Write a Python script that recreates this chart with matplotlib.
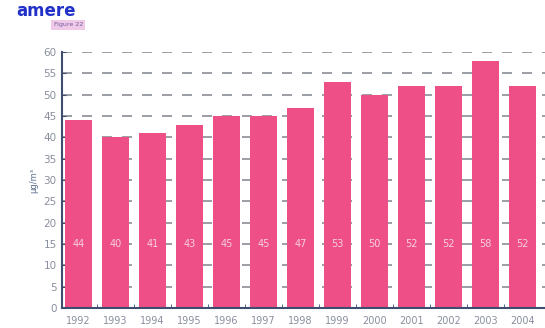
import matplotlib.pyplot as plt
import numpy as np

years = ['1992', '1993', '1994', '1995', '1996', '1997', '1998',
         '1999', '2000', '2001', '2002', '2003', '2004']
values = [44, 40, 41, 43, 45, 45, 47, 53, 50, 52, 52, 58, 52]
yticks = list(range(0, 61, 5))

bar_col = '#ee4f87'
axis_col = '#3f4d70'
txt_col = '#8a8f9e'

fig = plt.figure(figsize=(5.45, 3.28), dpi=100)
ax = fig.add_axes([0.114, 0.061, 0.886, 0.78])

x = np.arange(len(years))
ax.bar(x, values, width=0.73, color=bar_col, zorder=2)
for xi, v in zip(x, values):
    ax.text(xi, 15, str(v), ha='center', va='center', color='#f8d0e0',
            fontsize=7, zorder=3)

ax.set_xlim(-0.45, 12.62)
ax.set_ylim(0, 60)
ax.set_xticks(x)
ax.set_xticklabels(years, fontsize=7, color=txt_col)
ax.set_yticks(yticks)
ax.set_yticklabels([str(t) for t in yticks], fontsize=7.5, color=txt_col)
ax.tick_params(axis='x', length=0, pad=6)
ax.tick_params(axis='y', direction='in', length=3, color=axis_col, pad=4)
ax.set_xticks(x[:-1] + 0.5, minor=True)
ax.tick_params(axis='x', which='minor', direction='in', length=3, color=axis_col)

ax.yaxis.grid(True, linestyle=(0, (6, 6)), color='#8a8d96', linewidth=1.2, zorder=0)
ax.set_axisbelow(True)
for s in ['top', 'right']:
    ax.spines[s].set_visible(False)
for s in ['left', 'bottom']:
    ax.spines[s].set_color(axis_col)
    ax.spines[s].set_linewidth(1.5)

ax.set_ylabel('µg/m³', fontsize=6, color='#5a6d90', labelpad=4)

# cut-off heading from the page above the figure
fig.text(0.03, 0.994, 'amere', fontsize=12, fontweight='bold', color='#2030c8',
         ha='left', va='top')
fig.text(0.125, 0.925, 'Figure 22', fontsize=4.5, color='#7060a0', ha='center', va='center',
         bbox=dict(boxstyle='square,pad=0.4', fc='#f0c8e8', ec='none'))

fig.savefig('out.png', dpi=100)
